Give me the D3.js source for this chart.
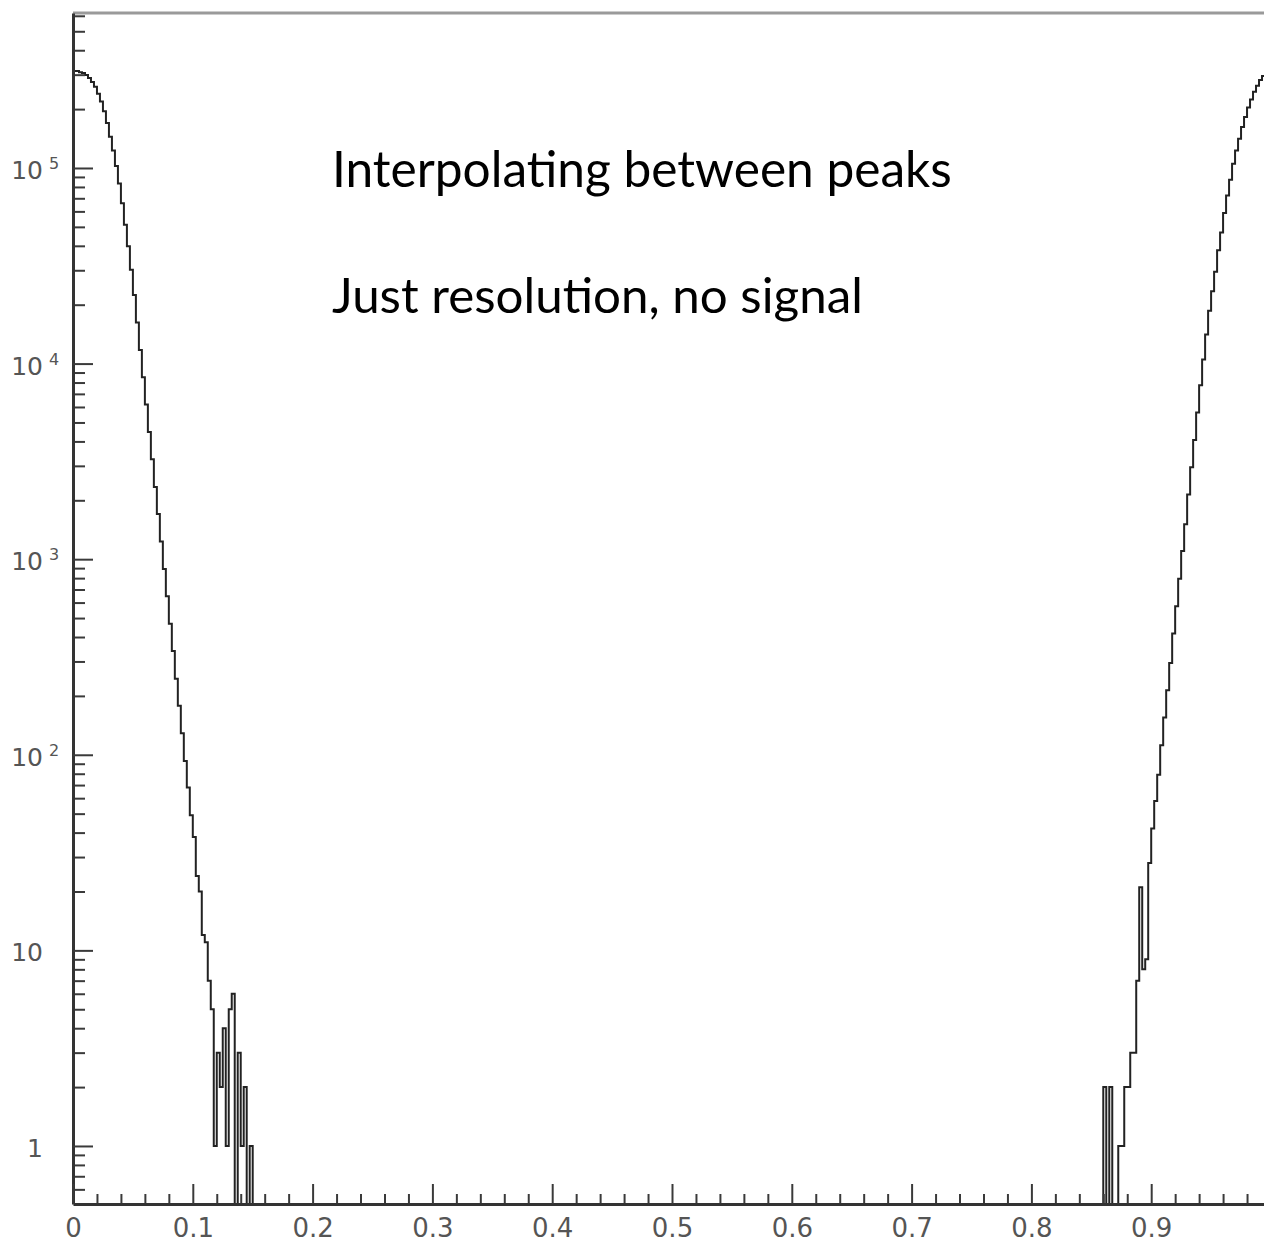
<!DOCTYPE html>
<html>
<head>
<meta charset="utf-8">
<script src="https://cdn.jsdelivr.net/npm/d3@7"></script>
<style>
  body { margin: 0; background: #fff; }
  svg { display: block; }
</style>
</head>
<body>
<div id="chart"></div>
<script>
// histogram bins, width 0.0025 on [0, 1]
const binWidth = 0.0025;

// left peak, bins starting at x = 0
const leftCounts = [
  313000, 313000, 309000, 305500, 298500, 288400, 275400, 260000, 239900, 218800,
  195000, 169800, 144500, 123000, 102300, 83200, 66100, 51300, 39800, 30200,
  22400, 16200, 11750, 8510, 6170, 4470, 3240, 2340, 1700, 1230,
  891, 646, 468, 339, 245, 178, 129, 93, 68, 49,
  38, 24, 20, 12, 11, 7, 5, 1, 3, 2,
  4, 1, 5, 6, 0, 3, 1, 2, 0, 1, 0
];

// right peak, bins starting at x = 0.86
const rightStart = 0.86;
const rightCounts = [
  2, 0, 2, 0, 0, 1, 1, 2, 2, 3,
  3, 7, 21, 8, 9, 28, 42, 58, 79, 112,
  155, 214, 295, 417, 575, 794, 1100, 1510, 2140, 2950,
  4070, 5620, 7760, 10500, 14100, 18600, 23400, 29500, 38000, 46800,
  58900, 72400, 87100, 105000, 123000, 141000, 162000, 182000, 204000, 224000,
  245000, 263000, 282000, 295000, 305000, 309000
];

const xTicks = [0, 0.1, 0.2, 0.3, 0.4, 0.5, 0.6, 0.7, 0.8, 0.9];
const xTickLabels = ["0", "0.1", "0.2", "0.3", "0.4", "0.5", "0.6", "0.7", "0.8", "0.9"];
const yTicks = [1, 10, 100, 1000, 10000, 100000];
const yTickBase = ["1", "10", "10", "10", "10", "10"];
const yTickExp = ["", "", "2", "3", "4", "5"];

const notes = ["Interpolating between peaks", "Just resolution, no signal"];

const width = 1264;
const height = 1244;
const frame = { left: 73, right: 1271, top: 13, bottom: 1204 };
const yMin = 0.505;
const yMax = 620000;

const svg = d3
  .select("#chart")
  .append("svg")
  .attr("width", width)
  .attr("height", height);

const x = d3.scaleLinear().domain([0, 1]).range([frame.left, frame.right]);
const y = d3.scaleLog().domain([yMin, yMax]).range([frame.bottom, frame.top]);

// fill in all 400 bins (empty ones stay 0)
const nBins = Math.round(1 / binWidth);
const counts = new Array(nBins).fill(0);
leftCounts.forEach((v, i) => (counts[i] = v));
const rStart = Math.round(rightStart / binWidth);
rightCounts.forEach((v, i) => (counts[rStart + i] = v));

// frame (top and right)
svg
  .append("path")
  .attr("d", `M${frame.left},${frame.top}H${frame.right}V${frame.bottom}`)
  .attr("fill", "none")
  .attr("stroke", "#9a9a9a")
  .attr("stroke-width", 3);

svg
  .append("clipPath")
  .attr("id", "clip")
  .append("rect")
  .attr("x", frame.left)
  .attr("y", frame.top)
  .attr("width", frame.right - frame.left)
  .attr("height", frame.bottom - frame.top + 2);

// histogram outline
const pts = [];
counts.forEach((v, i) => {
  const yv = v > 0 ? y(v) : y(yMin);
  pts.push([x(i * binWidth), yv], [x((i + 1) * binWidth), yv]);
});

svg
  .append("path")
  .attr("clip-path", "url(#clip)")
  .attr("d", d3.line()(pts))
  .attr("fill", "none")
  .attr("stroke", "#222")
  .attr("stroke-width", 2)
  .attr("stroke-linejoin", "miter");

// minor ticks
const yMinor = [];
for (let e = -1; e <= 5; e++) {
  for (let m = 2; m <= 9; m++) {
    const v = m * Math.pow(10, e);
    if (v >= yMin && v <= yMax) yMinor.push(v);
  }
}
const xMinor = d3.range(0, 50).map((k) => k * 0.02).filter((v) => Math.round(v * 100) % 10 !== 0);

const tickColor = "#3a3a3a";
const labelFont = "'DejaVu Sans', sans-serif";

// y axis
svg
  .append("g")
  .attr("transform", `translate(${frame.left},0)`)
  .call(d3.axisLeft(y).tickValues(yMinor).tickSize(-12).tickSizeOuter(0).tickFormat(""))
  .call((g) => g.select(".domain").remove())
  .call((g) => g.selectAll("line").attr("stroke", tickColor).attr("stroke-width", 2));

const yAxis = svg
  .append("g")
  .attr("transform", `translate(${frame.left},0)`)
  .call(d3.axisLeft(y).tickValues(yTicks).tickSize(-20).tickSizeOuter(0).tickFormat(""));

yAxis.select(".domain").attr("stroke", "#333").attr("stroke-width", 3);
yAxis.selectAll("line").attr("stroke", tickColor).attr("stroke-width", 2);
yAxis.selectAll(".tick").each(function (d, i) {
  const t = d3.select(this);
  t.append("text")
    .attr("x", -30)
    .attr("dy", "0.42em")
    .attr("text-anchor", "end")
    .attr("fill", "#555")
    .style("font-family", labelFont)
    .style("font-size", "25px")
    .text(yTickBase[i]);
  if (yTickExp[i]) {
    t.append("text")
      .attr("x", -24)
      .attr("dy", "0.05em")
      .attr("text-anchor", "start")
      .attr("fill", "#555")
      .style("font-family", labelFont)
      .style("font-size", "16px")
      .text(yTickExp[i]);
  }
});

// x axis
svg
  .append("g")
  .attr("transform", `translate(0,${frame.bottom})`)
  .call(d3.axisBottom(x).tickValues(xMinor).tickSize(-10).tickSizeOuter(0).tickFormat(""))
  .call((g) => g.select(".domain").remove())
  .call((g) => g.selectAll("line").attr("stroke", tickColor).attr("stroke-width", 2));

const xAxis = svg
  .append("g")
  .attr("transform", `translate(0,${frame.bottom})`)
  .call(
    d3
      .axisBottom(x)
      .tickValues(xTicks)
      .tickSize(-20)
      .tickSizeOuter(0)
      .tickPadding(15)
      .tickFormat((d, i) => xTickLabels[i])
  );

xAxis.select(".domain").attr("stroke", "#333").attr("stroke-width", 3);
xAxis.selectAll("line").attr("stroke", tickColor).attr("stroke-width", 2);
xAxis
  .selectAll("text")
  .attr("fill", "#555")
  .style("font-family", labelFont)
  .style("font-size", "26px");

// annotation text
const noteWidths = [620, 531];
const noteY = [187, 313];
notes.forEach((s, i) => {
  const t = svg
    .append("text")
    .attr("x", 332)
    .attr("y", noteY[i])
    .attr("fill", "#000")
    .style("font-family", "Lato, 'Open Sans', sans-serif")
    .style("font-size", "42px")
    .text(s);
  const w = t.node().getComputedTextLength();
  t.style("font-size", (42 * noteWidths[i]) / w + "px");
});
</script>
</body>
</html>
